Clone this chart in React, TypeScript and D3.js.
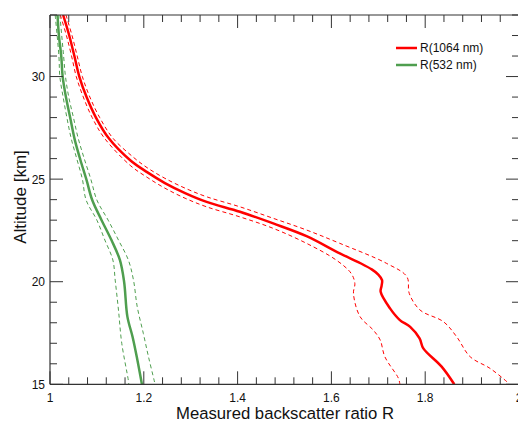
import React from "react";
import * as d3 from "d3";

const redMainAlt = [33, 32, 31, 30, 29, 28, 27, 25.92, 25.34, 24.81, 24.32, 23.89, 23.41, 22.84, 22.22, 21.38, 20.9, 20.6, 20.35, 20.08, 19.8, 19.51, 18.7, 18.13, 17.8, 17.24, 16.75, 15.86, 15];
const redMainR = [1.028, 1.041, 1.052, 1.0625, 1.078, 1.098, 1.125, 1.171, 1.207, 1.245, 1.288, 1.334, 1.405, 1.476, 1.547, 1.618, 1.662, 1.686, 1.700, 1.708, 1.707, 1.705, 1.725, 1.746, 1.768, 1.788, 1.796, 1.835, 1.862];

const redUpAlt = [33, 32, 31, 30, 29, 28, 27, 26.1, 25.56, 25.04, 24.56, 24.14, 23.65, 23.09, 22.52, 21.87, 20.89, 20.24, 19.43, 18.62, 18.05, 17.32, 16.34, 15.78, 15.13, 15];
const redUpR = [1.034, 1.047, 1.058, 1.069, 1.085, 1.106, 1.134, 1.176, 1.207, 1.245, 1.288, 1.334, 1.405, 1.476, 1.547, 1.618, 1.718, 1.761, 1.766, 1.789, 1.839, 1.867, 1.896, 1.938, 1.974, 1.98];

const redLoAlt = [33, 32, 31, 30, 29, 28, 27, 25.67, 25.09, 24.56, 24.07, 23.65, 23.16, 22.6, 21.87, 21.06, 20.41, 19.92, 19.43, 18.3, 17.65, 17.16, 16.34, 15.29, 15];
const redLoR = [1.022, 1.035, 1.046, 1.056, 1.071, 1.090, 1.116, 1.171, 1.207, 1.245, 1.288, 1.334, 1.405, 1.476, 1.547, 1.61, 1.642, 1.650, 1.647, 1.661, 1.689, 1.704, 1.714, 1.743, 1.746];

const greenMainAlt = [33, 32, 31, 30, 29, 28, 26.9, 25.92, 24.95, 23.98, 23, 22.03, 21.06, 20, 18.3, 17.32, 16.34, 15];
const greenMainR = [1.016, 1.019, 1.024, 1.027, 1.034, 1.043, 1.053, 1.065, 1.078, 1.09, 1.11, 1.131, 1.149, 1.158, 1.165, 1.176, 1.185, 1.196];

const greenUpAlt = [33, 31, 30, 29, 28, 27, 26, 25, 23.98, 23, 22.03, 21.06, 20.08, 18.78, 17.48, 16.34, 15.2, 15];
const greenUpR = [1.021, 1.029, 1.033, 1.040, 1.050, 1.060, 1.073, 1.087, 1.10, 1.124, 1.146, 1.167, 1.178, 1.186, 1.199, 1.21, 1.222, 1.224];

const greenLoAlt = [33, 31, 30, 29, 28, 27, 26, 25, 23.98, 23, 22.03, 21.06, 20.08, 18.62, 17, 15.2, 15];
const greenLoR = [1.011, 1.019, 1.021, 1.028, 1.036, 1.045, 1.057, 1.069, 1.077, 1.10, 1.117, 1.134, 1.139, 1.146, 1.153, 1.167, 1.168];

const xTickValues = [1, 1.2, 1.4, 1.6, 1.8, 2];
const xTickLabels = ["1", "1.2", "1.4", "1.6", "1.8", "2"];
const yTickValues = [15, 20, 25, 30];
const yTickLabels = ["15", "20", "25", "30"];
const legendLabels = ["R(1064 nm)", "R(532 nm)"];

const RED = "#ff0000";
const GREEN = "#4f9e4f";
const AX = "#333";
const FONT = "'Liberation Sans', Arial, Helvetica, sans-serif";

export default function App() {
  const W = 518, H = 423;
  const left = 50, right = 519, top = 15, bottom = 384.3;
  const x = d3.scaleLinear().domain([1, 2]).range([left, right]);
  const y = d3.scaleLinear().domain([15, 33]).range([bottom, top]);

  const mk = (alts: number[], rs: number[]) => {
    const pts = alts.map((a, i) => [rs[i], a] as [number, number]);
    return d3.line<[number, number]>().x(d => x(d[0])).y(d => y(d[1])).curve(d3.curveCatmullRom.alpha(0.5))(pts) || "";
  };

  const xMinor = d3.range(0, 26).map(i => 1 + i * 0.04);
  const yMinor = d3.range(15, 34, 1);
  const isMajorX = (v: number) => Math.abs(v * 5 - Math.round(v * 5)) < 1e-6;
  const isMajorY = (v: number) => v % 5 === 0;

  return (
    <svg width={W} height={H} style={{ position: "absolute", left: 0, top: 0 }} fontFamily={FONT}>
      <defs>
        <clipPath id="plot">
          <rect x={left} y={top} width={right - left} height={bottom - top} />
        </clipPath>
      </defs>
      <rect x={0} y={0} width={W} height={H} fill="white" />
      <g clipPath="url(#plot)" fill="none">
        <path d={mk(greenUpAlt, greenUpR)} stroke={GREEN} strokeWidth={1} strokeDasharray="4,3" />
        <path d={mk(greenLoAlt, greenLoR)} stroke={GREEN} strokeWidth={1} strokeDasharray="4,3" />
        <path d={mk(greenMainAlt, greenMainR)} stroke={GREEN} strokeWidth={2.5} />
        <path d={mk(redUpAlt, redUpR)} stroke={RED} strokeWidth={1} strokeDasharray="4,3" />
        <path d={mk(redLoAlt, redLoR)} stroke={RED} strokeWidth={1} strokeDasharray="4,3" />
        <path d={mk(redMainAlt, redMainR)} stroke={RED} strokeWidth={2.5} />
      </g>
      <line x1={left} x2={right} y1={bottom} y2={bottom} stroke={AX} strokeWidth={1.2} />
      <line x1={left} x2={right} y1={top} y2={top} stroke={AX} strokeWidth={1.2} />
      <line x1={left} x2={left} y1={top} y2={bottom} stroke={AX} strokeWidth={1.2} />
      <line x1={right} x2={right} y1={top} y2={bottom} stroke={AX} strokeWidth={1.2} />
      {xMinor.map((v, i) => {
        const len = isMajorX(v) ? 13 : 7;
        return (
          <g key={"xt" + i} stroke={AX} strokeWidth={1}>
            <line x1={x(v)} x2={x(v)} y1={bottom} y2={bottom - len} />
            <line x1={x(v)} x2={x(v)} y1={top} y2={top + len} />
          </g>
        );
      })}
      {yMinor.map((v, i) => {
        const len = isMajorY(v) ? 13 : 7;
        return (
          <g key={"yt" + i} stroke={AX} strokeWidth={1}>
            <line x1={left} x2={left + len} y1={y(v)} y2={y(v)} />
            <line x1={right} x2={right - len} y1={y(v)} y2={y(v)} />
          </g>
        );
      })}
      {xTickValues.map((v, i) => (
        <text key={"xl" + i} x={x(v)} y={402} fontSize={12} textAnchor="middle" fill="#111">{xTickLabels[i]}</text>
      ))}
      {yTickValues.map((v, i) => (
        <text key={"yl" + i} x={45} y={y(v) + 4.5} fontSize={12} textAnchor="end" fill="#111">{yTickLabels[i]}</text>
      ))}
      <text x={285} y={419} fontSize={16.7} textAnchor="middle" fill="#111">Measured backscatter ratio R</text>
      <text transform={`translate(26,197) rotate(-90)`} fontSize={17} textAnchor="middle" fill="#111">Altitude [km]</text>
      <line x1={396} x2={417} y1={48} y2={48} stroke={RED} strokeWidth={2.5} />
      <text x={420} y={52} fontSize={12} fill="#111">{legendLabels[0]}</text>
      <line x1={396} x2={417} y1={65} y2={65} stroke={GREEN} strokeWidth={2.5} />
      <text x={420} y={69} fontSize={12} fill="#111">{legendLabels[1]}</text>
    </svg>
  );
}
